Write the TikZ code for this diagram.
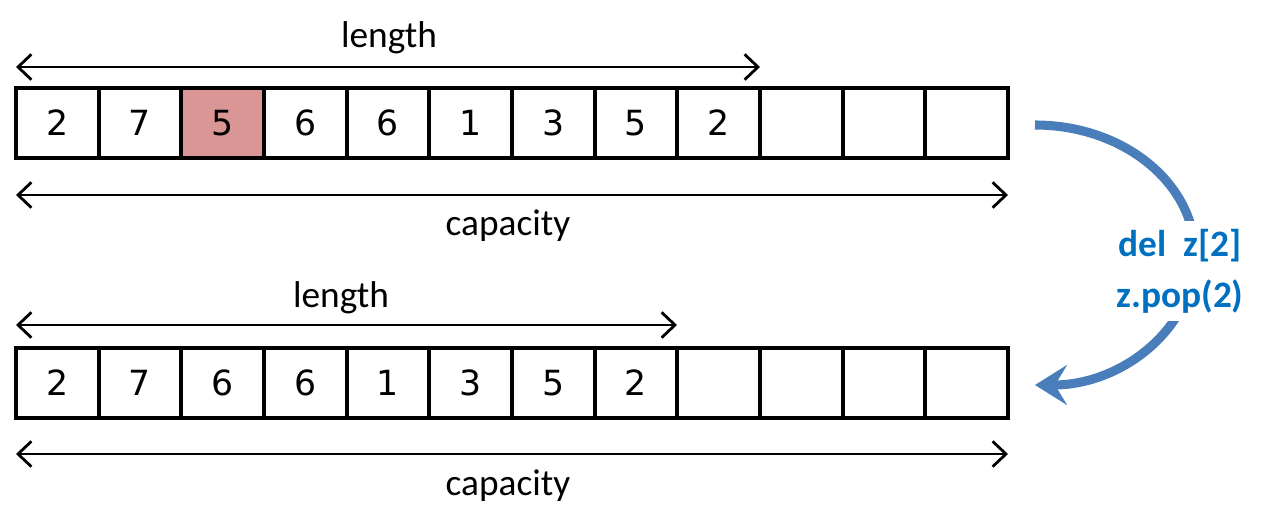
\documentclass[tikz,border=0pt]{standalone}
\usepackage{fontspec}
\setmainfont{Carlito}
\newfontfamily\digitfont{DejaVu Sans}
\usetikzlibrary{arrows.meta}
\definecolor{hilite}{HTML}{DA9694}
\definecolor{curvecol}{HTML}{4A7EBB}
\definecolor{txtblue}{HTML}{0070C0}
\begin{document}
\begin{tikzpicture}[x=0.75pt,y=-0.75pt,
  cell/.style={draw=black,line width=3pt,minimum width=62pt,minimum height=52.5pt,inner sep=0pt,font=\digitfont\fontsize{26}{30}\selectfont},
  dimarrow/.style={line width=2.1pt,{Straight Barb[length=10pt,width=19pt,line width=2.1pt]}-{Straight Barb[length=10pt,width=19pt,line width=2.1pt]}},
  lbl/.style={font=\fontsize{28}{32}\selectfont,inner sep=0pt},
  curve/.style={draw=curvecol,line width=6.8pt,-{Stealth[length=24pt,width=30pt,inset=9pt]}},
  optext/.style={fill=white,text=txtblue,align=center,inner sep=6pt,font=\bfseries\fontsize{28}{38}\selectfont}]
\useasboundingbox (0,0) rectangle (1270,515);
% top row
\foreach \v [count=\i from 0] in {2,7,5,6,6,1,3,5,2,{},{},{}} {
  \node[cell] (t\i) at ({16+82.667*(\i+0.5)},123) {\v};
}
\node[cell,fill=hilite] (t2) at ({16+82.667*2.5},123) {5};
% bottom row
\foreach \v [count=\i from 0] in {2,7,6,6,1,3,5,2,{},{},{},{}} {
  \node[cell] (b\i) at ({16+82.667*(\i+0.5)},383) {\v};
}
% dimension arrows
\coordinate (tlA) at (16,67); \coordinate (tlB) at (760,67);
\coordinate (tcA) at (16,195); \coordinate (tcB) at (1008,195);
\coordinate (blA) at (16,325); \coordinate (blB) at (677,325);
\coordinate (bcA) at (16,454); \coordinate (bcB) at (1008,454);
\draw[dimarrow] (tlA) -- (tlB);
\draw[dimarrow] (tcA) -- (tcB);
\draw[dimarrow] (blA) -- (blB);
\draw[dimarrow] (bcA) -- (bcB);
\node[lbl] (tlen) at (389,38) {length};
\node[lbl] (tcap) at (508,226) {capacity};
\node[lbl] (blen) at (341,298) {length};
\node[lbl] (bcap) at (508,486) {capacity};
% curved arrow
\coordinate (cs) at (1035,125);
\draw[curve] (cs) arc[start angle=90,end angle=-90,x radius=120pt,y radius=97.5pt];
\node[optext] (op) at (1180,271) {del\ \ z[2]\\z.pop(2)};
\end{tikzpicture}
\end{document}
